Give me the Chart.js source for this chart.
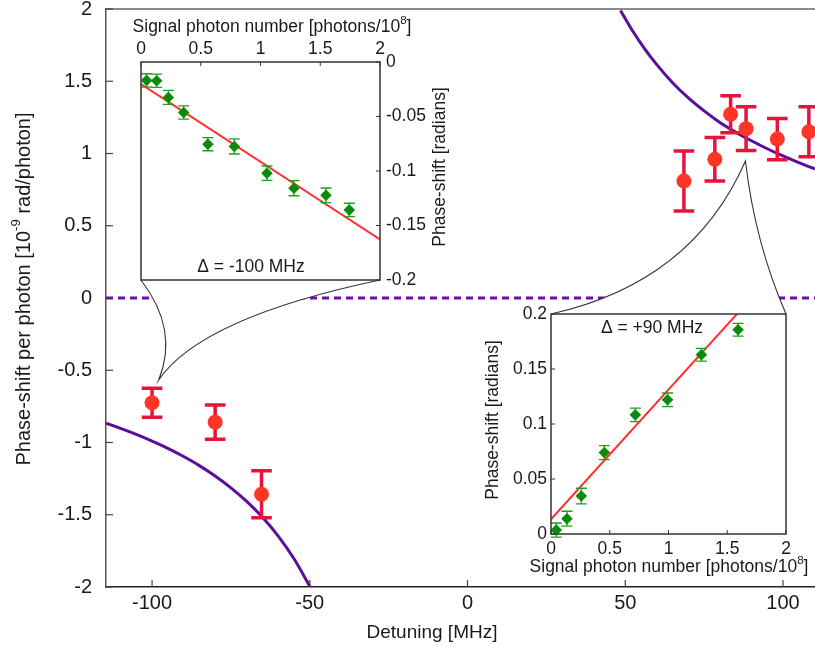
<!DOCTYPE html>
<html>
<head>
<meta charset="utf-8">
<script src="https://cdn.jsdelivr.net/npm/chart.js@4/dist/chart.umd.min.js"></script>
<style>
html,body{margin:0;padding:0;background:#fff;}
#wrap{position:relative;width:815px;height:649px;overflow:hidden;background:#fff;}
#wrap canvas{position:absolute;}
</style>
</head>
<body>
<div id="wrap">
  <canvas id="main" width="815" height="649" style="left:0px;top:0px;width:815px;height:649px"></canvas>
  <canvas id="in1" width="334" height="295" style="left:125px;top:10px;width:334px;height:295px"></canvas>
  <canvas id="in2" width="335" height="282" style="left:480px;top:300px;width:335px;height:282px"></canvas>
</div>
<script>
// ================= DATA =================
// Main plot: measured phase shift per photon vs detuning
const mainDetuning = [-100, -80, -65.3, 68.6, 78.4, 83.4, 88.3, 98.2, 108.2];
const mainPhase    = [-0.725, -0.859, -1.358, 0.81, 0.96, 1.272, 1.172, 1.10, 1.151];
const mainError    = [0.10, 0.119, 0.163, 0.208, 0.15, 0.128, 0.152, 0.143, 0.173];

// Theory curve (two branches)
const theoryLeftX  = [-114.6, -110, -105, -100, -95, -90, -85, -80, -75, -70, -65, -60, -55, -50];
const theoryLeftY  = [-0.867, -0.902, -0.944, -0.990, -1.040, -1.097, -1.160, -1.232, -1.314, -1.408, -1.518, -1.648, -1.805, -1.995];
const theoryRightX = [48.5, 52, 56, 60, 65, 70, 75, 80, 85, 90, 95, 100, 105, 110.15];
const theoryRightY = [1.99, 1.86, 1.73, 1.615, 1.49, 1.385, 1.295, 1.215, 1.148, 1.088, 1.033, 0.983, 0.937, 0.893];

// Zero reference line
const zeroLineX = [-114.6, 110.15];
const zeroLineY = [0, 0];

const mainXRange = [-114.6, 110.15];
const mainYRange = [-2, 2];
const mainXTicks = [-100, -50, 0, 50, 100];
const mainYTicks = [-2, -1.5, -1, -0.5, 0, 0.5, 1, 1.5, 2];

// Inset 1 (Δ = -100 MHz)
const inset1Photons = [0.047, 0.131, 0.229, 0.357, 0.56, 0.781, 1.054, 1.28, 1.548, 1.743];
const inset1Shift   = [-0.0169, -0.0172, -0.0325, -0.0463, -0.0754, -0.0775, -0.102, -0.1158, -0.1223, -0.1357];
const inset1Error   = [0.0061, 0.006, 0.0064, 0.0061, 0.006, 0.0069, 0.0066, 0.0069, 0.0067, 0.0061];
const inset1FitX    = [0, 2];
const inset1FitY    = [-0.0202, -0.1627];
const inset1XTicks  = [0, 0.5, 1, 1.5, 2];
const inset1YTicks  = [0, -0.05, -0.1, -0.15, -0.2];

// Inset 2 (Δ = +90 MHz)
const inset2Photons = [0.045, 0.136, 0.258, 0.454, 0.718, 0.992, 1.28, 1.592];
const inset2Shift   = [0.0036, 0.0139, 0.0345, 0.074, 0.1083, 0.122, 0.163, 0.1857];
const inset2Error   = [0.0064, 0.0068, 0.0071, 0.0064, 0.0061, 0.0062, 0.0058, 0.0058];
const inset2FitX    = [0, 2];
const inset2FitY    = [0.0134, 0.2492];
const inset2XTicks  = [0, 0.5, 1, 1.5, 2];
const inset2YTicks  = [0, 0.05, 0.1, 0.15, 0.2];

// Callout anchors (main-plot data coordinates)
const callout1Tip = {x: -97.9, y: -0.567};
const callout1CtrlA = {x: -91.4, y: -0.221};
const callout1CtrlB = {x: -84.3, y: -0.135};
const callout2Tip = {x: 88.1, y: 0.948};
const callout2CtrlA = {x: 71.3, y: 0.107};
const callout2CtrlB = {x: 91.1, y: 0.384};

// ================= helpers =================
const FONT = '"Liberation Sans", Arial, Helvetica, sans-serif';
Chart.defaults.font.family = FONT;
Chart.defaults.color = '#1a1a1a';

const zip = (xs, ys) => xs.map((x, i) => ({x: x, y: ys[i]}));
const fmt = v => String(+(+v).toFixed(3));

function drawRich(ctx, segs, cx, cy, size, rot) {
  ctx.save();
  ctx.translate(cx, cy);
  if (rot) ctx.rotate(rot);
  let total = 0;
  const parts = segs.map(s => {
    const fs = s.sup ? size * 0.66 : size;
    ctx.font = fs + 'px ' + FONT;
    const w = ctx.measureText(s.t).width;
    total += w;
    return {t: s.t, fs: fs, w: w, dy: s.sup ? -size * 0.36 : 0};
  });
  let x = -total / 2;
  ctx.textBaseline = 'middle';
  ctx.textAlign = 'left';
  ctx.fillStyle = '#1a1a1a';
  parts.forEach(p => { ctx.font = p.fs + 'px ' + FONT; ctx.fillText(p.t, x, p.dy); x += p.w; });
  ctx.restore();
}

// error bars, drawn just before the dataset's own points
const errorBarPlugin = {
  id: 'errbars',
  beforeDatasetDraw(chart, args) {
    const ds = chart.data.datasets[args.index];
    if (!ds.errors) return;
    const meta = args.meta;
    const xs = chart.scales[meta.xAxisID], ys = chart.scales[meta.yAxisID];
    const ctx = chart.ctx;
    ctx.save();
    ctx.strokeStyle = ds.errColor;
    ctx.lineWidth = ds.errWidth;
    ctx.lineCap = 'butt';
    ds.data.forEach((p, i) => {
      const e = ds.errors[i];
      const px = xs.getPixelForValue(p.x);
      const y1 = ys.getPixelForValue(p.y + e), y2 = ys.getPixelForValue(p.y - e);
      ctx.beginPath();
      ctx.moveTo(px, y1); ctx.lineTo(px, y2);
      ctx.moveTo(px - ds.capHalf, y1); ctx.lineTo(px + ds.capHalf, y1);
      ctx.moveTo(px - ds.capHalf, y2); ctx.lineTo(px + ds.capHalf, y2);
      ctx.stroke();
    });
    ctx.restore();
  }
};

// frame, inward tick marks, white plot background, free text
const decorPlugin = {
  id: 'decor',
  beforeDatasetsDraw(chart, args, opts) {
    const ca = chart.chartArea, ctx = chart.ctx;
    if (opts.whiteArea) {
      ctx.save(); ctx.fillStyle = '#fff';
      ctx.fillRect(ca.left, ca.top, ca.right - ca.left, ca.bottom - ca.top);
      ctx.restore();
    }
  },
  afterDraw(chart, args, opts) {
    const ca = chart.chartArea, ctx = chart.ctx;
    ctx.save();
    if (opts.box) {
      ctx.strokeStyle = opts.box.color; ctx.lineWidth = opts.box.width;
      ctx.strokeRect(ca.left, ca.top, ca.right - ca.left, ca.bottom - ca.top);
    }
    if (opts.topLine) {
      ctx.strokeStyle = opts.topLine.color; ctx.lineWidth = opts.topLine.width;
      ctx.beginPath(); ctx.moveTo(ca.left, ca.top); ctx.lineTo(ca.right, ca.top); ctx.stroke();
    }
    (opts.ticks || []).forEach(t => {
      const sc = chart.scales[t.axis];
      ctx.strokeStyle = t.color; ctx.lineWidth = t.width;
      sc.ticks.forEach(tk => {
        const p = sc.getPixelForValue(tk.value);
        ctx.beginPath();
        if (t.edge === 'bottom') { ctx.moveTo(p, ca.bottom); ctx.lineTo(p, ca.bottom - t.len); }
        if (t.edge === 'top') { ctx.moveTo(p, ca.top); ctx.lineTo(p, ca.top + t.len); }
        if (t.edge === 'left') { ctx.moveTo(ca.left, p); ctx.lineTo(ca.left + t.len, p); }
        if (t.edge === 'right') { ctx.moveTo(ca.right, p); ctx.lineTo(ca.right - t.len, p); }
        ctx.stroke();
      });
    });
    ctx.restore();
    (opts.texts || []).forEach(t => drawRich(ctx, t.segs, t.x, t.y, t.size, t.rot || 0));
  }
};

function fixedTicks(list) { return s => { s.ticks = list.map(v => ({value: v})); }; }

// ================= Inset 1 =================
const in1Canvas = document.getElementById('in1');
const inset1 = new Chart(in1Canvas, {
  type: 'scatter',
  data: { datasets: [
    { data: zip(inset1Photons, inset1Shift), errors: inset1Error,
      pointStyle: 'rectRot', pointRadius: 5.8, pointBackgroundColor: '#0b8a0b', pointBorderWidth: 0,
      errColor: '#1f9f1f', errWidth: 1.3, capHalf: 5.5 },
    { type: 'line', data: zip(inset1FitX, inset1FitY), borderColor: '#ff3030', borderWidth: 2, pointRadius: 0 }
  ]},
  options: {
    responsive: false, animation: false, events: [],
    layout: { autoPadding: false, padding: { left: 16, bottom: 25, top: 0, right: 0 } },
    plugins: {
      legend: { display: false }, tooltip: { enabled: false },
      decor: {
        whiteArea: true,
        box: { color: '#333', width: 1.5 },
        ticks: [ { axis: 'x', edge: 'top', len: 4, color: '#333', width: 1 },
                 { axis: 'y', edge: 'right', len: 4, color: '#333', width: 1 } ],
        texts: [
          { segs: [{t: 'Signal photon number [photons/10'}, {t: '8', sup: true}, {t: ']'}], x: 147, y: 17, size: 17.5 },
          { segs: [{t: 'Phase-shift [radians]'}], x: 315, y: 157, size: 17.5, rot: -Math.PI / 2 },
          { segs: [{t: 'Δ = -100 MHz'}], x: 126, y: 257, size: 17.5 }
        ]
      }
    },
    scales: {
      x: { type: 'linear', position: 'top', min: 0, max: 2, afterBuildTicks: fixedTicks(inset1XTicks),
           grid: { display: false, drawTicks: false }, border: { display: false },
           ticks: { padding: 2.5, autoSkip: false, maxRotation: 0, font: { size: 17.5 }, color: '#1a1a1a', callback: fmt },
           afterFit: s => { s.height = 52; s.paddingLeft = 0; s.paddingRight = 0; } },
      y: { type: 'linear', position: 'right', min: -0.2, max: 0, afterBuildTicks: fixedTicks(inset1YTicks),
           grid: { display: false, drawTicks: false }, border: { display: false },
           ticks: { padding: 6, autoSkip: false, font: { size: 17.5 }, color: '#1a1a1a', callback: fmt },
           afterFit: s => { s.width = 79; s.paddingTop = 0; s.paddingBottom = 0; } }
    }
  },
  plugins: [errorBarPlugin, decorPlugin]
});

// ================= Inset 2 =================
const in2Canvas = document.getElementById('in2');
const inset2 = new Chart(in2Canvas, {
  type: 'scatter',
  data: { datasets: [
    { data: zip(inset2Photons, inset2Shift), errors: inset2Error,
      pointStyle: 'rectRot', pointRadius: 5.8, pointBackgroundColor: '#0b8a0b', pointBorderWidth: 0,
      errColor: '#1f9f1f', errWidth: 1.3, capHalf: 5.5 },
    { type: 'line', data: zip(inset2FitX, inset2FitY), borderColor: '#ff3030', borderWidth: 2, pointRadius: 0 }
  ]},
  options: {
    responsive: false, animation: false, events: [],
    layout: { autoPadding: false, padding: { left: 0, bottom: 0, top: 14, right: 29 } },
    plugins: {
      legend: { display: false }, tooltip: { enabled: false },
      decor: {
        whiteArea: true,
        box: { color: '#333', width: 1.5 },
        ticks: [ { axis: 'x', edge: 'bottom', len: 4, color: '#333', width: 1 },
                 { axis: 'y', edge: 'left', len: 4, color: '#333', width: 1 } ],
        texts: [
          { segs: [{t: 'Signal photon number [photons/10'}, {t: '8', sup: true}, {t: ']'}], x: 189, y: 267, size: 17.5 },
          { segs: [{t: 'Phase-shift [radians]'}], x: 13, y: 120, size: 17.5, rot: -Math.PI / 2 },
          { segs: [{t: 'Δ = +90 MHz'}], x: 172, y: 28, size: 17.5 }
        ]
      }
    },
    scales: {
      x: { type: 'linear', position: 'bottom', min: 0, max: 2, afterBuildTicks: fixedTicks(inset2XTicks),
           grid: { display: false, drawTicks: false }, border: { display: false },
           ticks: { padding: 4.5, autoSkip: false, maxRotation: 0, font: { size: 17.5 }, color: '#1a1a1a', callback: fmt },
           afterFit: s => { s.height = 48; s.paddingLeft = 0; s.paddingRight = 0; } },
      y: { type: 'linear', position: 'left', min: 0, max: 0.2, afterBuildTicks: fixedTicks(inset2YTicks),
           grid: { display: false, drawTicks: false }, border: { display: false },
           ticks: { padding: 4, autoSkip: false, font: { size: 17.5 }, color: '#1a1a1a', callback: fmt },
           afterFit: s => { s.width = 71; s.paddingTop = 0; s.paddingBottom = 0; } }
    }
  },
  plugins: [errorBarPlugin, decorPlugin]
});

// ================= callouts (drawn on main chart) =================
const callouts = [
  { inset: inset1, canvas: in1Canvas, edge: 'bottom', tip: callout1Tip, ctrlA: callout1CtrlA, ctrlB: callout1CtrlB },
  { inset: inset2, canvas: in2Canvas, edge: 'top', tip: callout2Tip, ctrlA: callout2CtrlA, ctrlB: callout2CtrlB }
];
const calloutPlugin = {
  id: 'callouts',
  afterDatasetsDraw(chart) {
    const xs = chart.scales.x, ys = chart.scales.y, ctx = chart.ctx;
    const P = p => ({x: xs.getPixelForValue(p.x), y: ys.getPixelForValue(p.y)});
    callouts.forEach(c => {
      const ca = c.inset.chartArea;
      const ox = c.canvas.offsetLeft, oy = c.canvas.offsetTop;
      const ey = oy + (c.edge === 'bottom' ? ca.bottom : ca.top);
      const A = {x: ox + ca.left, y: ey}, B = {x: ox + ca.right, y: ey};
      const tip = P(c.tip), cA = P(c.ctrlA), cB = P(c.ctrlB);
      const path = () => {
        ctx.beginPath();
        ctx.moveTo(A.x, A.y);
        ctx.quadraticCurveTo(cA.x, cA.y, tip.x, tip.y);
        ctx.quadraticCurveTo(cB.x, cB.y, B.x, B.y);
      };
      ctx.save();
      path(); ctx.closePath(); ctx.fillStyle = '#fff'; ctx.fill();
      path(); ctx.strokeStyle = '#333'; ctx.lineWidth = 1.1; ctx.stroke();
      ctx.restore();
    });
  }
};

// ================= Main chart =================
const mainChart = new Chart(document.getElementById('main'), {
  type: 'scatter',
  data: { datasets: [
    { data: zip(mainDetuning, mainPhase), errors: mainError,
      pointStyle: 'circle', pointRadius: 7.5, pointBackgroundColor: '#ff3526', pointBorderWidth: 0,
      errColor: '#e8133b', errWidth: 3.5, capHalf: 10.3 },
    { type: 'line', data: zip(theoryLeftX, theoryLeftY), borderColor: '#5b0e9c', borderWidth: 3,
      pointRadius: 0, cubicInterpolationMode: 'monotone' },
    { type: 'line', data: zip(theoryRightX, theoryRightY), borderColor: '#5b0e9c', borderWidth: 3,
      pointRadius: 0, cubicInterpolationMode: 'monotone' },
    { type: 'line', data: zip(zeroLineX, zeroLineY), borderColor: '#6a0dad', borderWidth: 3.2,
      borderDash: [7, 5], pointRadius: 0 }
  ]},
  options: {
    responsive: false, animation: false, events: [],
    layout: { autoPadding: false, padding: { left: 0, bottom: 0, top: 9, right: 0 } },
    plugins: {
      legend: { display: false }, tooltip: { enabled: false },
      decor: {
        topLine: { color: '#666', width: 1.5 },
        ticks: [ { axis: 'x', edge: 'bottom', len: 7, color: '#444', width: 1.2 },
                 { axis: 'y', edge: 'left', len: 7, color: '#444', width: 1.2 } ],
        texts: [
          { segs: [{t: 'Detuning [MHz]'}], x: 432, y: 633, size: 19 },
          { segs: [{t: 'Phase-shift per photon [10'}, {t: '-9', sup: true}, {t: ' rad/photon]'}], x: 24, y: 289, size: 20, rot: -Math.PI / 2 }
        ]
      }
    },
    scales: {
      x: { type: 'linear', min: mainXRange[0], max: mainXRange[1], afterBuildTicks: fixedTicks(mainXTicks),
           grid: { display: false, drawTicks: false }, border: { display: true, color: '#222', width: 1.5 },
           ticks: { padding: 4, autoSkip: false, maxRotation: 0, font: { size: 20 }, color: '#1a1a1a', callback: fmt },
           afterFit: s => { s.height = 62; s.paddingLeft = 0; s.paddingRight = 0; } },
      y: { type: 'linear', min: mainYRange[0], max: mainYRange[1], afterBuildTicks: fixedTicks(mainYTicks),
           grid: { display: false, drawTicks: false }, border: { display: true, color: '#555', width: 1.5 },
           ticks: { padding: 14, autoSkip: false, font: { size: 20 }, color: '#1a1a1a', callback: fmt },
           afterFit: s => { s.width = 106; s.paddingTop = 0; s.paddingBottom = 0; } }
    }
  },
  plugins: [errorBarPlugin, calloutPlugin, decorPlugin]
});
</script>
</body>
</html>
